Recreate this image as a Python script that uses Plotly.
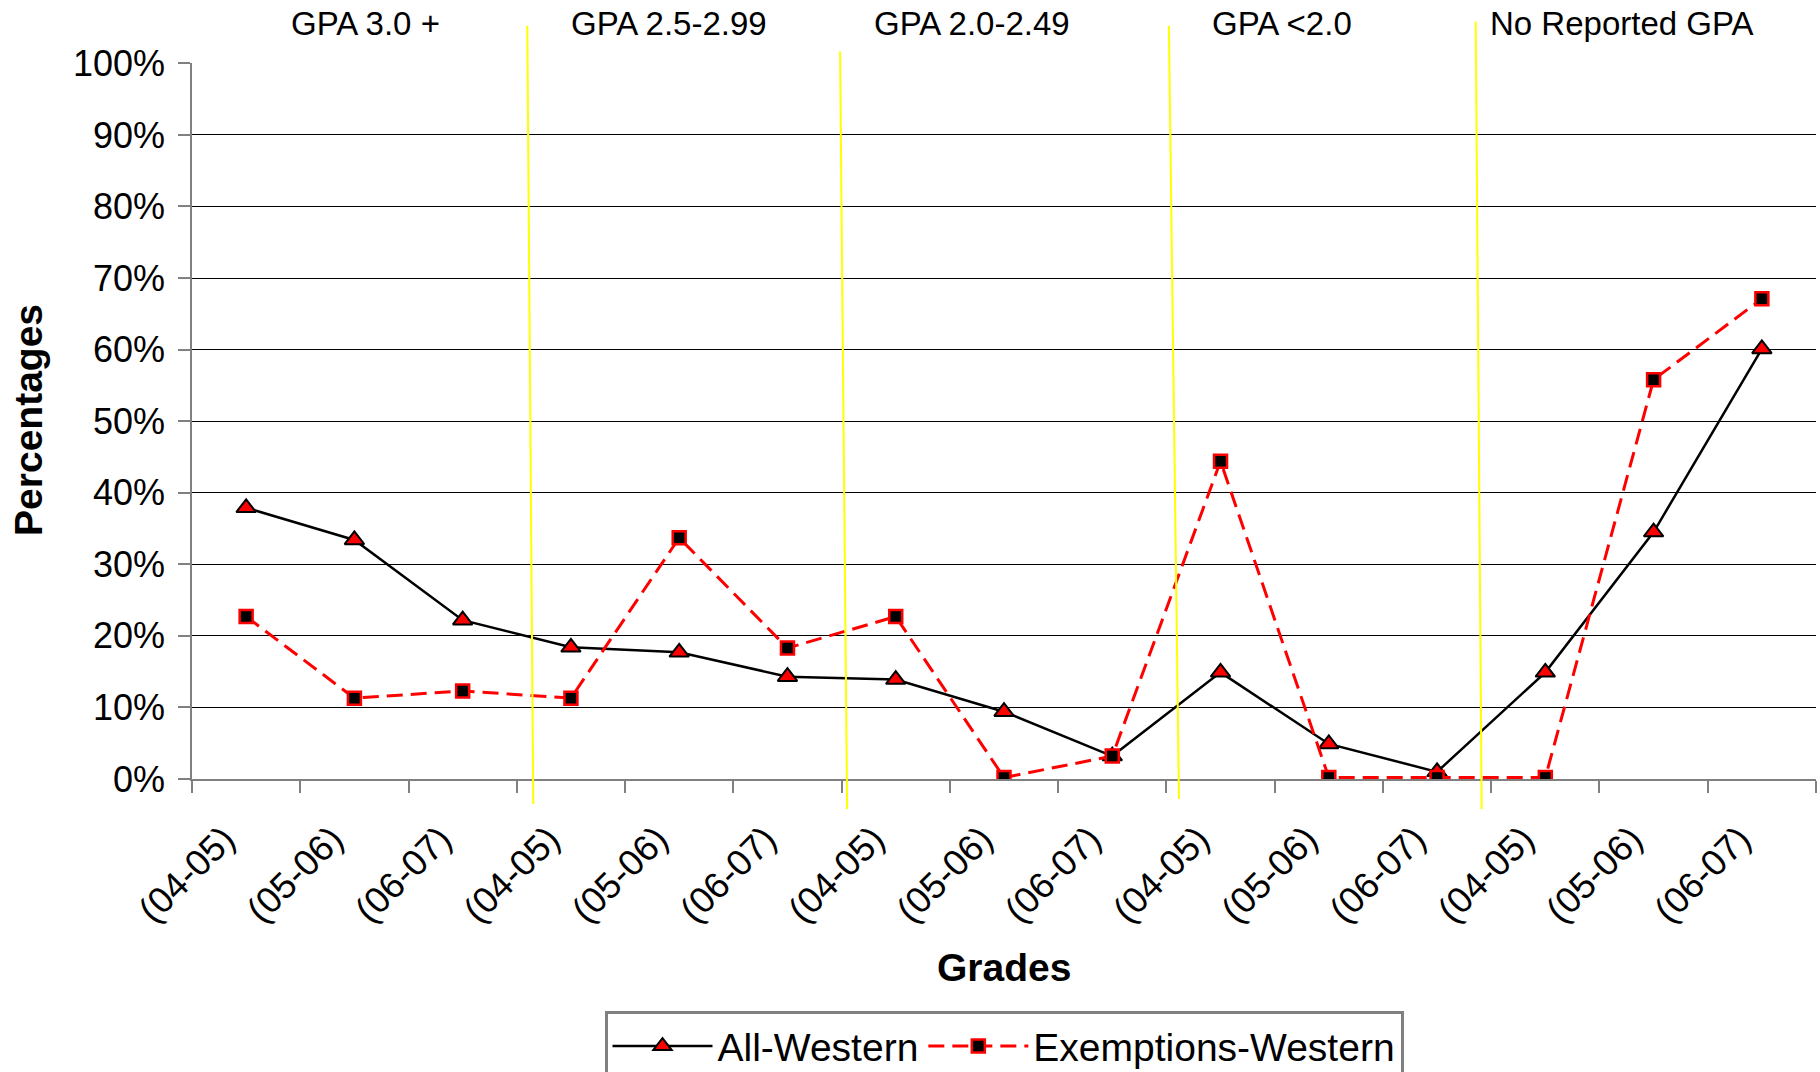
import plotly.graph_objects as go

# ---- data ----
year_labels = ["(04-05)", "(05-06)", "(06-07)"] * 5
group_labels = ["GPA 3.0 +", "GPA 2.5-2.99", "GPA 2.0-2.49", "GPA <2.0", "No Reported GPA"]
all_western = [0.379, 0.334, 0.222, 0.184, 0.177, 0.143, 0.139, 0.094, 0.032,
               0.149, 0.049, 0.010, 0.149, 0.345, 0.601]
exemptions_western = [0.227, 0.113, 0.123, 0.113, 0.337, 0.183, 0.227, 0.002, 0.032,
                      0.444, 0.002, 0.002, 0.002, 0.558, 0.671]
y_ticks = [0, 0.1, 0.2, 0.3, 0.4, 0.5, 0.6, 0.7, 0.8, 0.9, 1.0]

FONT = "Liberation Sans, Arial, sans-serif"
x = list(range(len(year_labels)))

fig = go.Figure()
fig.add_trace(go.Scatter(
    x=x, y=all_western, name="All-Western", mode="lines+markers",
    line=dict(color="black", width=2.5),
    marker=dict(symbol="triangle-up", size=17, color="#FF0000",
                line=dict(color="black", width=2)),
))
fig.add_trace(go.Scatter(
    x=x, y=exemptions_western, name="Exemptions-Western", mode="lines+markers",
    line=dict(color="#FF0000", width=3, dash="16px,8px"),
    marker=dict(symbol="square", size=13, color="black",
                line=dict(color="#FF0000", width=2.5)),
))

# yellow group separators (slightly slanted as in the original)
seps = [(2.597, 1.052, 2.652, -0.035), (5.486, 1.016, 5.551, -0.042),
        (8.523, 1.052, 8.616, -0.028), (11.357, 1.058, 11.412, -0.042)]
for x0, y0, x1, y1 in seps:
    fig.add_shape(type="line", xref="x", yref="paper", x0=x0, y0=y0, x1=x1, y1=y1,
                  line=dict(color="#FFFF00", width=2), layer="above")

group_x = [1.10, 3.908, 6.705, 9.566, 12.705]
for gx, gl in zip(group_x, group_labels):
    fig.add_annotation(x=gx, y=1.0556, xref="x", yref="paper", text=gl,
                       showarrow=False, xanchor="center", yanchor="middle",
                       font=dict(family=FONT, size=33, color="black"))

fig.add_annotation(x=-0.1006, y=0.501, xref="paper", yref="paper",
                   text="<b>Percentages</b>", textangle=-90, showarrow=False,
                   xanchor="center", yanchor="middle",
                   font=dict(family=FONT, size=39, color="black"))
fig.add_annotation(x=0.5, y=-0.2628, xref="paper", yref="paper",
                   text="<b>Grades</b>", showarrow=False,
                   xanchor="center", yanchor="middle",
                   font=dict(family=FONT, size=39, color="black"))

fig.update_xaxes(
    range=[-0.5, 14.5], tickmode="array", tickvals=x, ticktext=year_labels,
    tickangle=-45, ticks="", showgrid=False, zeroline=False,
    showline=True, linecolor="#808080", linewidth=2,
    tickfont=dict(family=FONT, size=36.5, color="black"),
    ticklabelstandoff=22, ticklabelshift=-22,
    minor=dict(tickmode="linear", tick0=-0.5, dtick=1, ticks="outside",
               ticklen=12, tickcolor="#808080", tickwidth=1.5, showgrid=False),
)
fig.update_yaxes(
    range=[0, 1.0005], tickmode="array", tickvals=y_ticks, tickformat=".0%",
    ticks="outside", ticklen=12, tickcolor="#808080", tickwidth=1.5,
    showgrid=True, gridcolor="#000000", gridwidth=1, zeroline=False,
    showline=True, linecolor="#808080", linewidth=1.5,
    tickfont=dict(family=FONT, size=36, color="black"),
    ticklabelstandoff=6,
)

fig.update_layout(
    width=1820, height=1072,
    margin=dict(l=191.5, r=3.5, t=62.7, b=293.2, autoexpand=False),
    plot_bgcolor="white", paper_bgcolor="white",
    font=dict(family=FONT, color="black"),
    showlegend=True,
    legend=dict(orientation="h", x=0.5, xanchor="center", y=-0.3243, yanchor="top",
                bordercolor="#808080", borderwidth=3, itemwidth=100,
                font=dict(family=FONT, size=39, color="black"),
                bgcolor="white"),
)

fig.write_html("out.html", config={"displayModeBar": False},
               post_script="document.body.style.margin='0px';")
